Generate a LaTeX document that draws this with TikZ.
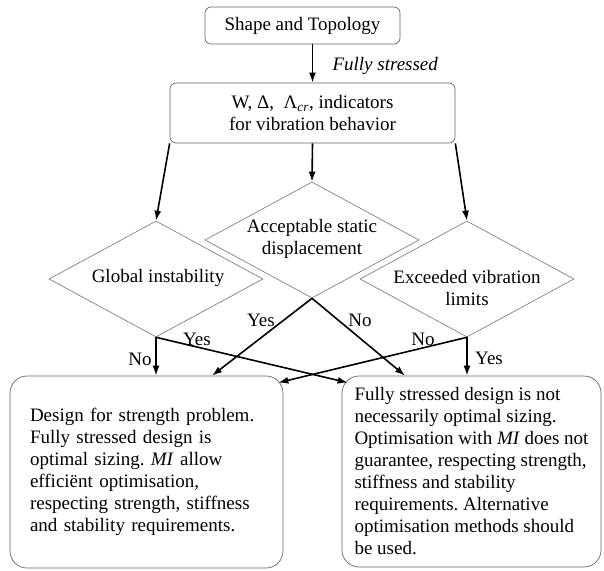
\documentclass[tikz,border=0pt]{standalone}
\usepackage{fontspec}
\setmainfont{Liberation Serif}
\usetikzlibrary{shapes.geometric,arrows.meta,calc}
\frenchspacing

\tikzset{
	txt/.style={font=\fontsize{19}{22}\selectfont},
	box/.style={txt, draw=black!60, line width=0.7pt, rounded corners=6pt, inner sep=0pt, align=center},
	bigbox/.style={txt, draw=black!60, line width=0.7pt, rounded corners=17pt, inner sep=0pt, align=left},
	decision/.style={diamond, draw=black!55, line width=0.6pt, minimum width=214pt, minimum height=116pt, inner sep=0pt},
	flow/.style={-{Latex[length=10pt,width=7pt]}, line width=1.6pt},
}

\begin{document}
\begin{tikzpicture}[x=1pt,y=-1pt]
	\useasboundingbox (0,0) rectangle (604,570);

	% top part
	\node[box, minimum width=195pt, minimum height=37pt] (shape) at (302.5,25.5) {Shape and Topology};
	\node[box, minimum width=285pt, minimum height=60pt] (ind) at (312.5,113) {W, Δ,\ \ Λ\textsubscript{\itshape cr}, indicators\\for vibration behavior};
	\node[txt, anchor=west] (stressed) at (329,66) {\itshape Fully stressed};

	% checks
	\node[decision] (glob) at (156,279) {};
	\node[decision] (accept) at (312,240) {};
	\node[decision] (vib) at (467,279) {};
	\node[txt] (globtxt) at (158,278) {Global instability};
	\node[txt, align=center] (accepttxt) at (312,239) {Acceptable static\\displacement};
	\node[txt, align=center] (vibtxt) at (467,288) {Exceeded vibration\\limits};

	% outcomes
	\node[bigbox, text width=233pt, minimum width=273pt, minimum height=192pt] (strong) at (146.5,472) {Design for strength problem.\\Fully stressed design is\\optimal sizing. \textit{MI} allow\\efficiënt optimisation,\\respecting strength, stiffness\\and stability requirements.};
	\node[bigbox, minimum width=259pt, minimum height=191pt] (weak) at (471.5,471.5) {Fully stressed design is not\\necessarily optimal sizing.\\Optimisation with \textit{MI} does not\\guarantee, respecting strength,\\stiffness and stability\\requirements. Alternative\\optimisation methods should\\be used.};

	% arrows
	\draw[flow] (shape.south -| ind.north) -- (ind.north);
	\draw[flow] (ind.south west) -- (glob.north);
	\draw[flow] (ind.south) -- (accept.north);
	\draw[flow] (ind.south east) -- (vib.north);
	\draw[flow] (glob.south) -- (glob.south |- strong.north);
	\draw[flow] (glob.south) -- ($(weak.north west)+(6,7)$);
	\draw[flow] (accept.south) -- ([xshift=65.5pt]strong.north);
	\draw[flow] (accept.south) -- ([xshift=-66.5pt]weak.north);
	\draw[flow] (vib.south) -- ($(strong.north east)+(-5,7)$);
	\draw[flow] (vib.south) -- (vib.south |- weak.north);

	% answers
	\node[txt] (no1) at (140,359) {No};
	\node[txt] (yes1) at (197,339) {Yes};
	\node[txt] (yes2) at (261,320) {Yes};
	\node[txt] (no2) at (360,320) {No};
	\node[txt] (no3) at (423,339) {No};
	\node[txt] (yes3) at (489,358) {Yes};
\end{tikzpicture}
\end{document}
